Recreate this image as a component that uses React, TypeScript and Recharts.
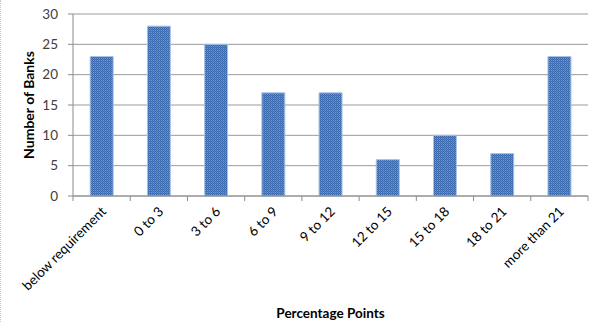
import React from 'react';
import { BarChart, Bar, XAxis, YAxis, CartesianGrid } from 'recharts';

const categories = ['below requirement', '0 to 3', '3 to 6', '6 to 9', '9 to 12', '12 to 15', '15 to 18', '18 to 21', 'more than 21'];
const banks = [23, 28, 25, 17, 17, 6, 10, 7, 23];
const yTicks = [0, 5, 10, 15, 20, 25, 30];

const data = categories.map((c, i) => ({ category: c, banks: banks[i] }));

const FONT = 'Lato, "Open Sans", sans-serif';

const XTick = (props: any) => {
  const { x, y, payload, index, visibleTicksCount } = props;
  const off = payload && typeof payload.offset === 'number' ? payload.offset : 0;
  const last = index === (visibleTicksCount ?? categories.length) - 1;
  return (
    <g>
      {off > 0 && <line x1={x - off} x2={x - off} y1={y - 8} y2={y - 3} stroke="#8c8c8c" />}
      {off > 0 && last && <line x1={x + off} x2={x + off} y1={y - 8} y2={y - 3} stroke="#8c8c8c" />}
      <text
        transform={`translate(${x + 2}, ${y + 5}) rotate(-45)`}
        textAnchor="end"
        fontSize={13.5}
        fontFamily={FONT}
        fill="#000"
        dy="0.35em"
      >
        {payload.value}
      </text>
    </g>
  );
};

export default function App() {
  return (
    <div style={{ position: 'absolute', left: 0, top: 0, width: 600, height: 322, background: '#fff', borderLeft: '1px dotted #c8c8c8', boxSizing: 'border-box' }}>
      <BarChart
        width={599}
        height={322}
        data={data}
        margin={{ top: 14, right: 12, bottom: 0, left: 0 }}
        barCategoryGap="30%"
      >
        <defs>
          <pattern id="dots" width="2" height="2" patternUnits="userSpaceOnUse">
            <rect width="2" height="2" fill="#3a69ad" />
            <rect width="1" height="1" fill="#6d9bd6" />
            <rect x="1" y="1" width="1" height="1" fill="#4f82c4" />
          </pattern>
        </defs>
        <CartesianGrid vertical={false} stroke="#9a9a9a" />
        <XAxis
          dataKey="category"
          interval={0}
          height={126}
          axisLine={{ stroke: '#8c8c8c' }}
          tickLine={false}
          tick={<XTick />}
          label={{ value: 'Percentage Points', position: 'insideBottom', offset: 4, fontSize: 13.5, fontWeight: 'bold', fontFamily: FONT, fill: '#000' }}
        />
        <YAxis
          width={72}
          domain={[0, 30]}
          ticks={yTicks}
          interval={0}
          axisLine={{ stroke: '#8c8c8c' }}
          tickLine={{ stroke: '#8c8c8c' }}
          tickSize={5}
          tickMargin={10}
          tick={{ fontSize: 13.5, fontFamily: FONT, fill: '#404040' }}
          label={{ value: 'Number of Banks', angle: -90, position: 'insideLeft', offset: 28, fontSize: 14, fontWeight: 'bold', fontFamily: FONT, fill: '#000', style: { textAnchor: 'middle' } }}
        />
        <Bar dataKey="banks" fill="url(#dots)" stroke="#a9c3e6" strokeWidth={1} isAnimationActive={false} />
      </BarChart>
    </div>
  );
}
